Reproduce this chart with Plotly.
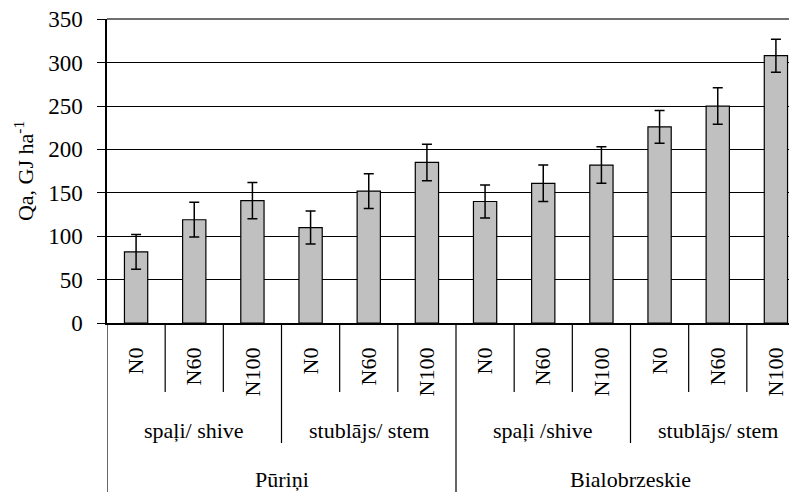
import plotly.graph_objects as go

# ---- data ----
nitrogen = ["N0", "N60", "N100"] * 4
parts = ["spaļi/ shive", "stublājs/ stem", "spaļi /shive", "stublājs/ stem"]
varieties = ["Pūriņi", "Bialobrzeskie"]
values = [82, 119, 141, 110, 152, 185, 140, 161, 182, 226, 250, 308]
errors = [20, 20, 21, 19, 20, 21, 19, 21, 21, 19, 21, 19]
y_ticks = [0, 50, 100, 150, 200, 250, 300, 350]

FONT = "Liberation Serif"
n = len(values)
xs = list(range(n))

fig = go.Figure()
fig.add_trace(go.Bar(
    x=xs, y=values,
    width=0.40,
    marker=dict(color="#c0c0c0", line=dict(color="black", width=1.2)),
    error_y=dict(type="data", array=errors, visible=True,
                 color="black", thickness=1.5, width=5),
    showlegend=False,
))

H_PLOT = 304.0  # plot height in px
def py(px_below):
    return -px_below / H_PLOT

shapes = []
# top border of plot area (gray)
shapes.append(dict(type="line", xref="paper", yref="paper",
                   x0=0, x1=1, y0=1, y1=1, layer="above",
                   line=dict(color="#707070", width=2)))
# level-1 separators (between N levels)
for g in range(4):
    for k in (0.5, 1.5):
        shapes.append(dict(type="line", xref="x", yref="paper",
                           x0=g * 3 + k, x1=g * 3 + k, y0=0, y1=py(69),
                           line=dict(color="black", width=1.2)))
# level-2 separators (between parts within a variety)
for v in range(2):
    xb = v * 6 + 2.5
    shapes.append(dict(type="line", xref="x", yref="paper",
                       x0=xb, x1=xb, y0=0, y1=py(120),
                       line=dict(color="black", width=1.2)))
# level-3 separators (between varieties)
for xb in (-0.5, 5.5, 11.5):
    shapes.append(dict(type="line", xref="x", yref="paper",
                       x0=xb, x1=xb, y0=0, y1=py(180),
                       line=dict(color="black", width=1.2)))

annotations = []
for i, p in enumerate(parts):
    annotations.append(dict(x=i * 3 + 1, y=py(108), xref="x", yref="paper",
                            text=p, showarrow=False, xanchor="center",
                            yanchor="middle",
                            font=dict(family=FONT, size=22, color="black")))
for i, v in enumerate(varieties):
    annotations.append(dict(x=i * 6 + 2.5, y=py(156), xref="x", yref="paper",
                            text=v, showarrow=False, xanchor="center",
                            yanchor="middle",
                            font=dict(family=FONT, size=22, color="black")))

fig.update_layout(
    width=797, height=492,
    margin=dict(l=99, r=0, t=11, b=177, autoexpand=False),
    paper_bgcolor="white", plot_bgcolor="white",
    font=dict(family=FONT, size=22, color="black"),
    shapes=shapes, annotations=annotations,
    xaxis=dict(
        range=[-0.5, 11.5],
        tickmode="array", tickvals=xs, ticktext=nitrogen,
        tickangle=-90, ticks="", showgrid=False,
        showline=True, linecolor="black", linewidth=1.5,
        ticklabelstandoff=14, automargin=False,
        tickfont=dict(family=FONT, size=22, color="black"),
        zeroline=False,
    ),
    yaxis=dict(
        range=[0, 350.3], tickmode="array", tickvals=y_ticks,
        ticks="outside", ticklen=8, tickcolor="black", tickwidth=1.2,
        showgrid=True, gridcolor="black", gridwidth=1.1,
        showline=True, linecolor="black", linewidth=1.5,
        zeroline=False, automargin=False,
        ticklabelstandoff=10, ticklabeloverflow="allow",
        tickfont=dict(family=FONT, size=23, color="black"),
        title=dict(text="Qa, GJ ha<sup>-1</sup>", standoff=8,
                   font=dict(family=FONT, size=22, color="black")),
    ),
)

fig.write_html("out.html")
